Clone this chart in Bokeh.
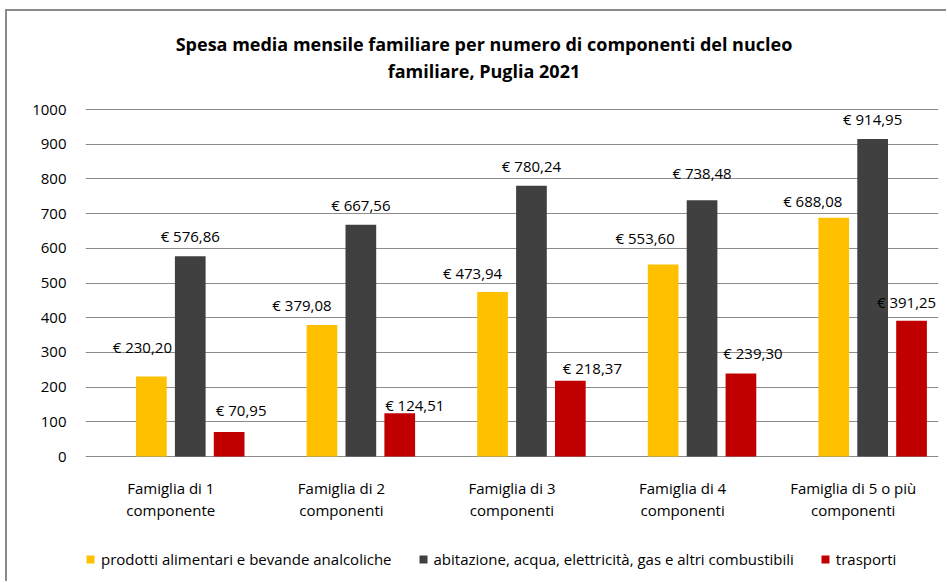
from bokeh.plotting import figure
from bokeh.models import ColumnDataSource, FactorRange, Range1d, LabelSet, Legend, LegendItem, FixedTicker
from bokeh.transform import dodge
from bokeh.core.properties import value
from bokeh.embed import file_html
from bokeh.resources import INLINE

# ---------------- data ----------------
categories = [
    "Famiglia di 1\ncomponente",
    "Famiglia di 2\ncomponenti",
    "Famiglia di 3\ncomponenti",
    "Famiglia di 4\ncomponenti",
    "Famiglia di 5 o più\ncomponenti",
]
series_names = [
    "prodotti alimentari e bevande analcoliche",
    "abitazione, acqua, elettricità, gas e altri combustibili",
    "trasporti",
]
alimentari = [230.20, 379.08, 473.94, 553.60, 688.08]
abitazione = [576.86, 667.56, 780.24, 738.48, 914.95]
trasporti = [70.95, 124.51, 218.37, 239.30, 391.25]
y_ticks = [0, 100, 200, 300, 400, 500, 600, 700, 800, 900, 1000]
title_lines = ["Spesa media mensile familiare per numero di componenti del nucleo",
               "familiare, Puglia 2021"]

# ---------------- layout / styles ----------------
W, H = 946, 581
Y0_PX, Y1000_PX = 456, 109          # picture rows of value 0 and value 1000
K = (y_ticks[-1] - y_ticks[0]) / (Y0_PX - Y1000_PX)   # value units per pixel


def px_to_val(row):
    return (Y0_PX - row) * K


colors = ["#FFC000", "#404040", "#C00000"]
offsets = [-0.114, 0.114, 0.342]
bar_width = 0.18
# manual label placement (screen px): horizontal shift and height of label centre above bar top
label_dx = [[-9, -20, -20, -18, -21], [0, 0, 0, 0, 0], [12, 15, 22, 12, -5]]
label_dy = [[30, 20, 19, 26, 17], [20, 20, 20, 27, 20], [22, 8, 13, 20, 19]]
FONT = "Open Sans"
FS = "15px"
GRID = "#8c8c8c"
FRAME_COLOR = "#8a8a8a"

p = figure(
    x_range=FactorRange(*categories, range_padding=0),
    y_range=Range1d(px_to_val(H), px_to_val(0)),
    width=W, height=H,
    output_backend="svg", toolbar_location=None, x_axis_location=None,
    min_border_left=85, min_border_right=8, min_border_top=0, min_border_bottom=0,
)
p.title = None
p.outline_line_color = None
p.background_fill_color = None
p.border_fill_color = None

# y axis
p.yaxis.ticker = FixedTicker(ticks=y_ticks)
p.yaxis.axis_line_color = None
p.yaxis.major_tick_line_color = None
p.yaxis.major_tick_out = 0
p.yaxis.major_tick_in = 0
p.yaxis.minor_tick_line_color = None
p.yaxis.major_label_standoff = 19
p.yaxis.major_label_text_font = FONT
p.yaxis.major_label_text_font_size = FS
p.yaxis.major_label_text_color = "black"

p.xgrid.grid_line_color = None
p.ygrid.ticker = FixedTicker(ticks=y_ticks)
p.ygrid.grid_line_color = GRID
p.ygrid.grid_line_width = 1

# category labels under the zero line (each line centred)
line1 = [c.split("\n")[0] for c in categories]
line2 = [c.split("\n")[1] for c in categories]
cat_src = ColumnDataSource(dict(cat=categories, y=[0] * len(categories), l1=line1, l2=line2))
for col, off in (("l1", -31), ("l2", -53)):
    p.add_layout(LabelSet(x="cat", y="y", text=col, source=cat_src, y_offset=off,
                          text_align="center", text_baseline="middle",
                          text_font=value(FONT), text_font_size=FS, text_color="black"))

series_values = [alimentari, abitazione, trasporti]
items = []
for i, vals in enumerate(series_values):
    src = ColumnDataSource(dict(
        cat=categories,
        val=vals,
        txt=["€ " + f"{v:.2f}".replace(".", ",") for v in vals],
        dx=label_dx[i],
        dy=label_dy[i],
    ))
    r = p.vbar(x=dodge("cat", offsets[i], range=p.x_range), top="val", width=bar_width,
               source=src, fill_color=colors[i], line_color=None)
    items.append(LegendItem(label=series_names[i], renderers=[r]))
    p.add_layout(LabelSet(x=dodge("cat", offsets[i], range=p.x_range), y="val", text="txt",
                          x_offset="dx", y_offset="dy", source=src,
                          text_align="center", text_baseline="middle",
                          text_font=value(FONT), text_font_size=FS, text_color="black"))

# title, two lines
title_src = ColumnDataSource(dict(
    x=[categories[2], categories[2]],
    y=[px_to_val(43), px_to_val(70)],
    t=title_lines,
))
p.add_layout(LabelSet(x="x", y="y", text="t", source=title_src, x_offset=-28,
                      text_align="center", text_baseline="middle",
                      text_font=value(FONT), text_font_style="bold", text_font_size="18px",
                      text_color="black"))

legend = Legend(items=items, orientation="horizontal", location=(0, 12),
                glyph_width=10, glyph_height=10, label_standoff=6, spacing=26,
                padding=0, margin=0, border_line_color=None, background_fill_alpha=0,
                label_text_font=FONT, label_text_font_size=FS, label_text_color="black",
                label_height=18)
p.add_layout(legend, "center")

# chart-area border (top and left edges visible in the reference), painted behind the canvas
p.styles = {
    "background": (f"linear-gradient({FRAME_COLOR},{FRAME_COLOR}) 5px 9px / 100% 2px no-repeat, "
                   f"linear-gradient({FRAME_COLOR},{FRAME_COLOR}) 5px 9px / 2px 100% no-repeat, white"),
}

open("out.html", "w").write(file_html(p, INLINE))
